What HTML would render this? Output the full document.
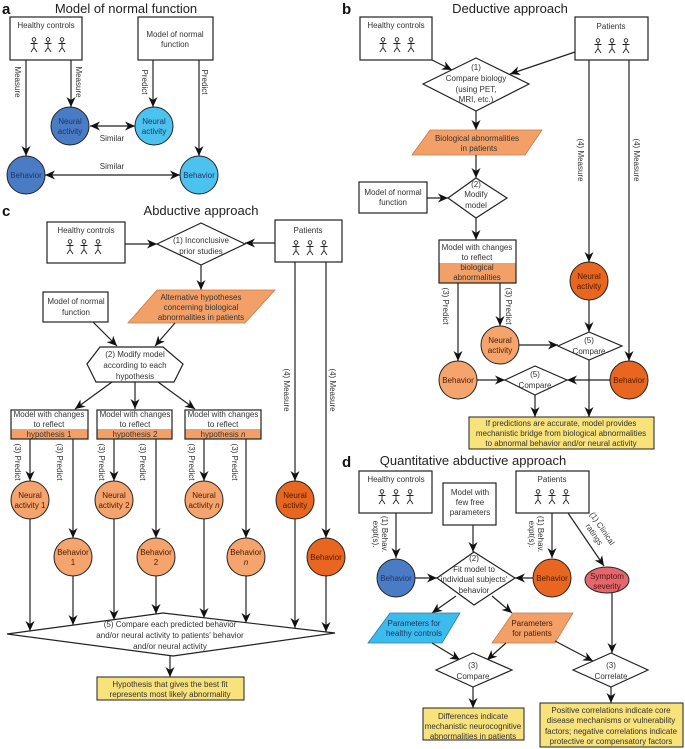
<!DOCTYPE html>
<html><head><meta charset="utf-8"><style>
html,body{margin:0;padding:0;background:#fff}
svg{display:block}
text{font-family:"Liberation Sans",sans-serif;font-size:8px;fill:#333;text-anchor:middle}
.t{font-size:13px;fill:#222}
.L{font-size:15px;font-weight:bold;fill:#111;text-anchor:start}
.bx{fill:#fff;stroke:#222;stroke-width:1.2}
.ln{stroke:#222;stroke-width:1.2;fill:none}
.c{stroke:#222;stroke-width:1}
</style></head><body>
<svg width="685" height="749" viewBox="0 0 685 749" xmlns="http://www.w3.org/2000/svg">
<defs>
<marker id="a" markerWidth="10" markerHeight="9" refX="10" refY="4.5" orient="auto" markerUnits="userSpaceOnUse"><path d="M0,0 L10,4.5 L0,9 L3,4.5 z" fill="#111"/></marker>
<marker id="s" markerWidth="10" markerHeight="9" refX="0" refY="4.5" orient="auto" markerUnits="userSpaceOnUse"><path d="M10,0 L0,4.5 L10,9 L7,4.5 z" fill="#111"/></marker>
<g id="f" stroke="#222" stroke-width="0.9" fill="none"><circle cx="0" cy="-5.5" r="1.8"/><path d="M0,-3.7V2.5M-3.5,-1.5H3.5M0,2.5L-3,7M0,2.5L3,7"/></g>
<g id="ff"><use href="#f" x="-14"/><use href="#f" x="0"/><use href="#f" x="14"/></g>
</defs>

<!-- PANEL A -->
<text class="L" x="2" y="14">a</text>
<text class="t" x="126" y="13">Model of normal function</text>
<rect class="bx" x="10" y="17" width="72" height="43"/>
<text x="46" y="28">Healthy controls</text>
<use href="#ff" x="48" y="45"/>
<rect class="bx" x="138" y="17" width="75" height="43"/>
<text x="175" y="37">Model of normal</text><text x="175" y="47">function</text>
<line class="ln" x1="26" y1="60" x2="26" y2="156" marker-end="url(#a)"/>
<line class="ln" x1="71" y1="60" x2="71" y2="107" marker-end="url(#a)"/>
<line class="ln" x1="153" y1="60" x2="153" y2="107" marker-end="url(#a)"/>
<line class="ln" x1="199" y1="60" x2="199" y2="156" marker-end="url(#a)"/>
<text transform="translate(15,82) rotate(90)">Measure</text>
<text transform="translate(76,82) rotate(90)">Measure</text>
<text transform="translate(142,82) rotate(90)">Predict</text>
<text transform="translate(202,82) rotate(90)">Predict</text>
<circle class="c" cx="70" cy="126" r="19" fill="#4a7cc6"/><text x="70" y="124" style="fill:#1d3566">Neural</text><text x="70" y="134" style="fill:#1d3566">activity</text>
<circle class="c" cx="154" cy="126" r="19" fill="#4cc3ef"/><text x="154" y="124" style="fill:#1d3566">Neural</text><text x="154" y="134" style="fill:#1d3566">activity</text>
<line class="ln" x1="90" y1="126" x2="135" y2="126" marker-start="url(#s)" marker-end="url(#a)"/>
<text x="112" y="141">Similar</text>
<circle class="c" cx="26" cy="175" r="19" fill="#4a7cc6"/><text x="26" y="178" style="fill:#1d3566">Behavior</text>
<circle class="c" cx="199" cy="175" r="19" fill="#4cc3ef"/><text x="199" y="178" style="fill:#1d3566">Behavior</text>
<line class="ln" x1="45" y1="175" x2="180" y2="175" marker-start="url(#s)" marker-end="url(#a)"/>
<text x="112" y="169">Similar</text>

<!-- PANEL B -->
<text class="L" x="342" y="14">b</text>
<text class="t" x="510" y="13">Deductive approach</text>
<rect class="bx" x="360" y="17" width="72" height="43"/>
<text x="396" y="28">Healthy controls</text>
<use href="#ff" x="397" y="45"/>
<rect class="bx" x="575" y="17" width="73" height="43"/>
<text x="611" y="29">Patients</text>
<use href="#ff" x="612" y="46"/>
<line class="ln" x1="432" y1="60" x2="452" y2="70" marker-end="url(#a)"/>
<line class="ln" x1="575" y1="52" x2="510" y2="74" marker-end="url(#a)"/>
<polygon class="bx" points="423,84 476,58 529,84 476,111"/>
<text x="476" y="70">(1)</text><text x="476" y="81">Compare biology</text><text x="476" y="92">(using PET,</text><text x="476" y="102">MRI, etc.)</text>
<line class="ln" x1="476" y1="111" x2="476" y2="130" marker-end="url(#a)"/>
<polygon points="430,130 542,130 525,155 412,155" fill="#f3a068" stroke="#c87a48" stroke-width="0.8"/>
<text x="477" y="141">Biological abnormalities</text><text x="479" y="151">in patients</text>
<line class="ln" x1="476" y1="155" x2="476" y2="178" marker-end="url(#a)"/>
<polygon class="bx" points="448,198 476,178 507,198 476,218"/>
<text x="476" y="187">(2)</text><text x="476" y="197">Modify</text><text x="476" y="208">model</text>
<rect class="bx" x="359" y="182" width="68" height="31"/>
<text x="393" y="195">Model of normal</text><text x="393" y="205">function</text>
<line class="ln" x1="427" y1="198" x2="448" y2="198" marker-end="url(#a)"/>
<line class="ln" x1="476" y1="218" x2="476" y2="240" marker-end="url(#a)"/>
<rect x="439" y="263" width="77" height="20" fill="#f3a068"/>
<rect x="439" y="240" width="77" height="43" fill="none" stroke="#222" stroke-width="1.2"/>
<text x="477" y="250">Model with changes</text><text x="477" y="260">to reflect</text><text x="477" y="270">biological</text><text x="477" y="280">abnormalities</text>
<line class="ln" x1="458" y1="283" x2="458" y2="361" marker-end="url(#a)"/>
<line class="ln" x1="500" y1="283" x2="500" y2="326" marker-end="url(#a)"/>
<text transform="translate(443,306) rotate(90)">(3) Predict</text>
<text transform="translate(506,306) rotate(90)">(3) Predict</text>
<line class="ln" x1="589" y1="60" x2="589" y2="262" marker-end="url(#a)"/>
<line class="ln" x1="629" y1="60" x2="629" y2="361" marker-end="url(#a)"/>
<text transform="translate(578,160) rotate(90)">(4) Measure</text>
<text transform="translate(634,160) rotate(90)">(4) Measure</text>
<circle class="c" cx="589" cy="281" r="19" fill="#e8661f"/><text x="589" y="279" style="fill:#4a1c00">Neural</text><text x="589" y="289" style="fill:#4a1c00">activity</text>
<circle class="c" cx="500" cy="345" r="19" fill="#f4a46c"/><text x="500" y="343" style="fill:#4a1c00">Neural</text><text x="500" y="353" style="fill:#4a1c00">activity</text>
<circle class="c" cx="458" cy="380" r="19" fill="#f4a46c"/><text x="458" y="383" style="fill:#4a1c00">Behavior</text>
<circle class="c" cx="629" cy="380" r="19" fill="#e8661f"/><text x="629" y="383" style="fill:#4a1c00">Behavior</text>
<polygon class="bx" points="558,346 589,332 622,346 589,360"/>
<text x="589" y="343">(5)</text><text x="589" y="354">Compare</text>
<line class="ln" x1="589" y1="300" x2="589" y2="332" marker-end="url(#a)"/>
<line class="ln" x1="519" y1="345" x2="558" y2="345" marker-end="url(#a)"/>
<polygon class="bx" points="505,380 535,366 567,380 535,395"/>
<text x="535" y="377">(5)</text><text x="535" y="388">Compare</text>
<line class="ln" x1="477" y1="380" x2="505" y2="380" marker-end="url(#a)"/>
<line class="ln" x1="610" y1="380" x2="567" y2="380" marker-end="url(#a)"/>
<line class="ln" x1="535" y1="395" x2="535" y2="417" marker-end="url(#a)"/>
<line class="ln" x1="589" y1="360" x2="589" y2="417" marker-end="url(#a)"/>
<rect x="469" y="417" width="185" height="32" fill="#f8e27c" stroke="#222" stroke-width="1"/>
<text x="561" y="426">If predictions are accurate, model provides</text>
<text x="561" y="436">mechanistic bridge from biological abnormalities</text>
<text x="561" y="446">to abnormal behavior and/or neural activity</text>

<!-- PANEL C -->
<text class="L" x="2" y="216">c</text>
<text class="t" x="201" y="215">Abductive approach</text>
<rect class="bx" x="47" y="222" width="78" height="41"/>
<text x="86" y="233">Healthy controls</text>
<use href="#ff" x="84" y="247"/>
<rect class="bx" x="275" y="220" width="67" height="42"/>
<text x="308" y="233">Patients</text>
<use href="#ff" x="310" y="248"/>
<polygon class="bx" points="157,244 201,223 245,244 201,265"/>
<text x="201" y="243">(1) Inconclusive</text><text x="201" y="254">prior studies</text>
<line class="ln" x1="125" y1="244" x2="157" y2="244" marker-end="url(#a)"/>
<line class="ln" x1="275" y1="243" x2="245" y2="243" marker-end="url(#a)"/>
<line class="ln" x1="201" y1="265" x2="201" y2="290" marker-end="url(#a)"/>
<polygon points="157,290 275,290 245,323 128,323" fill="#f3a068" stroke="#c87a48" stroke-width="0.8"/>
<text x="201" y="300">Alternative hypotheses</text><text x="201" y="310">concerning biological</text><text x="201" y="320">abnormalities in patients</text>
<rect class="bx" x="43" y="292" width="65" height="30"/>
<text x="76" y="304">Model of normal</text><text x="76" y="315">function</text>
<line class="ln" x1="93" y1="322" x2="117" y2="346" marker-end="url(#a)"/>
<line class="ln" x1="175" y1="323" x2="155" y2="346" marker-end="url(#a)"/>
<polygon class="bx" points="100,347 163,347 183,364 174,382 96,382 87,364"/>
<text x="135" y="357">(2) Modify model</text><text x="135" y="368">according to each</text><text x="135" y="379">hypothesis</text>
<line class="ln" x1="112" y1="382" x2="75" y2="409" marker-end="url(#a)"/>
<line class="ln" x1="135" y1="382" x2="135" y2="409" marker-end="url(#a)"/>
<line class="ln" x1="158" y1="382" x2="195" y2="409" marker-end="url(#a)"/>
<g>
<rect x="11" y="429" width="77" height="10" fill="#f3a068"/><rect x="11" y="410" width="77" height="29" fill="none" stroke="#222" stroke-width="1.2"/>
<text x="49" y="417">Model with changes</text><text x="49" y="427">to reflect</text><text x="49" y="437">hypothesis 1</text>
<rect x="97" y="429" width="75" height="10" fill="#f3a068"/><rect x="97" y="410" width="75" height="29" fill="none" stroke="#222" stroke-width="1.2"/>
<text x="135" y="417">Model with changes</text><text x="135" y="427">to reflect</text><text x="135" y="437">hypothesis 2</text>
<rect x="185" y="429" width="76" height="10" fill="#f3a068"/><rect x="185" y="410" width="76" height="29" fill="none" stroke="#222" stroke-width="1.2"/>
<text x="223" y="417">Model with changes</text><text x="223" y="427">to reflect</text><text x="223" y="437">hypothesis <tspan font-style="italic">n</tspan></text>
</g>
<line class="ln" x1="30" y1="439" x2="30" y2="481" marker-end="url(#a)"/>
<line class="ln" x1="73" y1="439" x2="73" y2="538" marker-end="url(#a)"/>
<line class="ln" x1="114" y1="439" x2="114" y2="481" marker-end="url(#a)"/>
<line class="ln" x1="156" y1="439" x2="156" y2="538" marker-end="url(#a)"/>
<line class="ln" x1="204" y1="439" x2="204" y2="481" marker-end="url(#a)"/>
<line class="ln" x1="246" y1="439" x2="246" y2="538" marker-end="url(#a)"/>
<text transform="translate(15,462) rotate(90)">(3) Predict</text>
<text transform="translate(57,462) rotate(90)">(3) Predict</text>
<text transform="translate(99,462) rotate(90)">(3) Predict</text>
<text transform="translate(140,462) rotate(90)">(3) Predict</text>
<text transform="translate(189,462) rotate(90)">(3) Predict</text>
<text transform="translate(232,462) rotate(90)">(3) Predict</text>
<line class="ln" x1="295" y1="262" x2="295" y2="481" marker-end="url(#a)"/>
<line class="ln" x1="326" y1="262" x2="326" y2="538" marker-end="url(#a)"/>
<text transform="translate(284,390) rotate(90)">(4) Measure</text>
<text transform="translate(330,390) rotate(90)">(4) Measure</text>
<circle class="c" cx="30" cy="500" r="19" fill="#f4a46c"/><text x="30" y="498" style="fill:#4a1c00">Neural</text><text x="30" y="508" style="fill:#4a1c00">activity 1</text>
<circle class="c" cx="114" cy="500" r="19" fill="#f4a46c"/><text x="114" y="498" style="fill:#4a1c00">Neural</text><text x="114" y="508" style="fill:#4a1c00">activity 2</text>
<circle class="c" cx="204" cy="500" r="19" fill="#f4a46c"/><text x="204" y="498" style="fill:#4a1c00">Neural</text><text x="204" y="508" style="fill:#4a1c00">activity <tspan font-style="italic">n</tspan></text>
<circle class="c" cx="295" cy="500" r="19" fill="#e8661f"/><text x="295" y="498" style="fill:#4a1c00">Neural</text><text x="295" y="508" style="fill:#4a1c00">activity</text>
<circle class="c" cx="73" cy="557" r="19" fill="#f4a46c"/><text x="73" y="555" style="fill:#4a1c00">Behavior</text><text x="73" y="565" style="fill:#4a1c00">1</text>
<circle class="c" cx="156" cy="557" r="19" fill="#f4a46c"/><text x="156" y="555" style="fill:#4a1c00">Behavior</text><text x="156" y="565" style="fill:#4a1c00">2</text>
<circle class="c" cx="246" cy="557" r="19" fill="#f4a46c"/><text x="246" y="555" style="fill:#4a1c00">Behavior</text><text x="246" y="565" style="fill:#4a1c00" font-style="italic">n</text>
<circle class="c" cx="326" cy="557" r="19" fill="#e8661f"/><text x="326" y="560" style="fill:#4a1c00">Behavior</text>
<line class="ln" x1="30" y1="519" x2="30" y2="631" marker-end="url(#a)"/>
<line class="ln" x1="73" y1="576" x2="73" y2="625" marker-end="url(#a)"/>
<line class="ln" x1="114" y1="519" x2="114" y2="620" marker-end="url(#a)"/>
<line class="ln" x1="156" y1="576" x2="156" y2="614" marker-end="url(#a)"/>
<line class="ln" x1="204" y1="519" x2="204" y2="618" marker-end="url(#a)"/>
<line class="ln" x1="246" y1="576" x2="246" y2="623" marker-end="url(#a)"/>
<line class="ln" x1="295" y1="519" x2="295" y2="628" marker-end="url(#a)"/>
<line class="ln" x1="326" y1="576" x2="326" y2="632" marker-end="url(#a)"/>
<polygon class="bx" points="7,634 163,613 335,633 173,656"/>
<text x="170" y="627">(5) Compare each predicted behavior</text>
<text x="170" y="638">and/or neural activity to patients' behavior</text>
<text x="170" y="649">and/or neural activity</text>
<line class="ln" x1="170" y1="656" x2="170" y2="677" marker-end="url(#a)"/>
<rect x="97" y="677" width="147" height="23" fill="#f8e27c" stroke="#222" stroke-width="1"/>
<text x="170" y="687">Hypothesis that gives the best fit</text>
<text x="170" y="697">represents most likely abnormality</text>

<!-- PANEL D -->
<text class="L" x="342" y="467">d</text>
<text class="t" x="473" y="465">Quantitative abductive approach</text>
<rect class="bx" x="359" y="471" width="73" height="42"/>
<text x="396" y="482">Healthy controls</text>
<use href="#ff" x="396" y="497"/>
<rect class="bx" x="443" y="483" width="53" height="42"/>
<text x="470" y="495">Model with</text><text x="470" y="505">few free</text><text x="470" y="515">parameters</text>
<rect class="bx" x="516" y="471" width="73" height="42"/>
<text x="552" y="482">Patients</text>
<use href="#ff" x="552" y="497"/>
<line class="ln" x1="396" y1="513" x2="396" y2="558" marker-end="url(#a)"/>
<text transform="translate(382,534) rotate(90)">(1) Behav.</text>
<text transform="translate(373,534) rotate(90)">expt(s).</text>
<line class="ln" x1="552" y1="513" x2="552" y2="558" marker-end="url(#a)"/>
<text transform="translate(538,534) rotate(90)">(1) Behav.</text>
<text transform="translate(529,534) rotate(90)">expt(s).</text>
<line class="ln" x1="568" y1="513" x2="604" y2="566" marker-end="url(#a)"/>
<text transform="translate(600,530) rotate(56)">(1) Clinical</text>
<text transform="translate(592,536) rotate(56)">ratings</text>
<line class="ln" x1="473" y1="525" x2="473" y2="552" marker-end="url(#a)"/>
<polygon class="bx" points="437,578 474,552 515,578 474,605"/>
<text x="474" y="561">(2)</text><text x="474" y="572">Fit model to</text><text x="474" y="582">individual subjects'</text><text x="474" y="593">behavior</text>
<circle class="c" cx="396" cy="578" r="19" fill="#4a7cc6"/><text x="396" y="581" style="fill:#1d3566">Behavior</text>
<circle class="c" cx="552" cy="578" r="19" fill="#e8661f"/><text x="552" y="581" style="fill:#4a1c00">Behavior</text>
<line class="ln" x1="415" y1="578" x2="437" y2="578" marker-end="url(#a)"/>
<line class="ln" x1="533" y1="578" x2="515" y2="578" marker-end="url(#a)"/>
<ellipse cx="607" cy="580" rx="22" ry="13" fill="#e2676e" stroke="#222" stroke-width="1"/>
<text x="607" y="579" style="fill:#5a1010">Symptom</text><text x="607" y="589" style="fill:#5a1010">severity</text>
<line class="ln" x1="612" y1="593" x2="612" y2="653" marker-end="url(#a)"/>
<line class="ln" x1="456" y1="596" x2="432" y2="613" marker-end="url(#a)"/>
<line class="ln" x1="492" y1="596" x2="512" y2="613" marker-end="url(#a)"/>
<polygon points="390,613 460,613 442,643 368,643" fill="#3cbcec" stroke="#2a7fa8" stroke-width="0.8"/>
<text x="414" y="626" style="fill:#1d3566">Parameters for</text><text x="414" y="636" style="fill:#1d3566">healthy controls</text>
<polygon points="513,613 573,613 555,643 492,643" fill="#f3a068" stroke="#c87a48" stroke-width="0.8"/>
<text x="532" y="626" style="fill:#4a1c00">Parameters</text><text x="532" y="636" style="fill:#4a1c00">for patients</text>
<line class="ln" x1="432" y1="643" x2="460" y2="660" marker-end="url(#a)"/>
<line class="ln" x1="506" y1="643" x2="487" y2="660" marker-end="url(#a)"/>
<line class="ln" x1="555" y1="641" x2="593" y2="661" marker-end="url(#a)"/>
<polygon class="bx" points="436,670 473,653 512,670 473,687"/>
<text x="473" y="668">(3)</text><text x="473" y="679">Compare</text>
<polygon class="bx" points="573,670 611,653 648,670 611,687"/>
<text x="611" y="668">(3)</text><text x="611" y="679">Correlate</text>
<line class="ln" x1="473" y1="687" x2="473" y2="708" marker-end="url(#a)"/>
<line class="ln" x1="611" y1="687" x2="611" y2="703" marker-end="url(#a)"/>
<rect x="423" y="708" width="101" height="32" fill="#f8e27c" stroke="#222" stroke-width="1"/>
<text x="473" y="719">Differences indicate</text><text x="473" y="729">mechanistic neurocognitive</text><text x="473" y="739">abnormalities in patients</text>
<rect x="540" y="703" width="143" height="44" fill="#f8e27c" stroke="#222" stroke-width="1"/>
<text x="611" y="713">Positive correlations indicate core</text>
<text x="611" y="723">disease mechanisms or vulnerability</text>
<text x="611" y="734">factors; negative correlations indicate</text>
<text x="611" y="744">protective or compensatory factors</text>
</svg>
</body></html>
